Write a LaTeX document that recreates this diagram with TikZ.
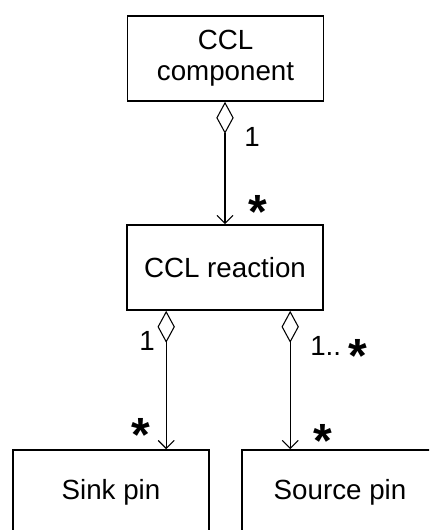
\documentclass[tikz,border=0pt]{standalone}
\usepackage{fontspec}
\setmainfont{Liberation Sans}
\usetikzlibrary{arrows.meta,calc}
\newcommand{\starmark}{{\fontsize{36}{36}\bfseries *}}
\begin{document}
\begin{tikzpicture}[x=0.75pt,y=-0.75pt,
  box/.style={draw, line width=1.2pt, inner sep=0pt, align=center,
    minimum width=147pt, minimum height=63.75pt,
    font=\fontsize{20.8}{23.5}\selectfont},
  agg/.style={draw, line width=0.8pt,
    {Diamond[open,length=24pt,width=13pt]}-{Straight Barb[length=6pt,width=12pt,line width=0.8pt]}},
  lbl/.style={inner sep=0pt, font=\fontsize{20.8}{23.5}\selectfont},
  starlbl/.style={inner sep=0pt, anchor=base}]
\useasboundingbox (0,0) rectangle (429,530);
\clip (0,0) rectangle (429,530);
\node[box] (comp) at (225.5,58.5) {CCL\\component};
\node[box] (react) at (225,267.5) {CCL reaction};
\node[box] (sink) at (111,492.5) {Sink pin};
\node[box] (source) at (340,492.5) {Source pin};
% connectors
\draw[agg] (comp.south -| react.north) -- (react.north);
\draw[agg] ([xshift=30pt]react.south west) coordinate (ls) -- (ls |- sink.north);
\draw[agg] ([xshift=123pt]react.south west) coordinate (rs) -- (rs |- source.north);
% labels
\node[lbl] (l1) at (252,137) {1};
\node[starlbl] (s1) at (258,229) {\starmark};
\node[lbl] (l2) at (147,341) {1};
\node[starlbl] (s2) at (141,451) {\starmark};
\node[lbl, anchor=base west] (l3) at (310,355) {1..\hspace{5.5pt}\raisebox{-13pt}{\starmark}};
\node[starlbl] (s3) at (323,457) {\starmark};
\end{tikzpicture}
\end{document}
